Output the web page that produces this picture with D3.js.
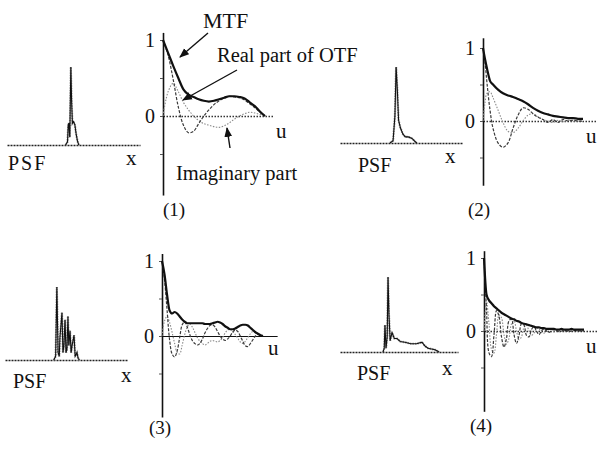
<!DOCTYPE html>
<html>
<head>
<meta charset="utf-8">
<script src="https://cdn.jsdelivr.net/npm/d3@7"></script>
<style>
  body { margin: 0; background: #fff; }
  text { font-family: "Liberation Serif", "Times New Roman", serif; fill: #111; }
</style>
</head>
<body>
<svg id="chart" width="597" height="452"></svg>
<script>
// ---- data ----
// spatial frequency grids
const u20 = [0, 0.05, 0.1, 0.15, 0.2, 0.25, 0.3, 0.35, 0.4, 0.45, 0.5, 0.55, 0.6, 0.65, 0.7, 0.75, 0.8, 0.85, 0.9, 0.95, 1];
const uFine2 = [0, 0.02, 0.04, 0.07, 0.1, 0.15, 0.2, 0.25, 0.3, 0.35, 0.4, 0.45, 0.5, 0.55, 0.6, 0.65, 0.7, 0.75, 0.8, 0.85, 0.9, 0.95, 1];
const u40 = [0, 0.025, 0.05, 0.075, 0.1, 0.125, 0.15, 0.175, 0.2, 0.225, 0.25, 0.275, 0.3, 0.325, 0.35, 0.375, 0.4, 0.425, 0.45, 0.475, 0.5,
  0.525, 0.55, 0.575, 0.6, 0.625, 0.65, 0.675, 0.7, 0.725, 0.75, 0.775, 0.8, 0.825, 0.85, 0.875, 0.9, 0.925, 0.95, 0.975, 1];

// PSF profiles: [position 0..100, relative intensity]
const psf1 = [[44, 0], [45.5, 0.04], [46, 0.25], [46.5, 0.28], [47.2, 0.1], [48, 1.0], [48.6, 0.55], [49.2, 0.28], [50, 0.3], [51, 0.26], [52, 0.14], [53, 0.05], [54, 0]];
const psf2 = [[41, 0], [43.5, 0.03], [45, 0.35], [46, 1.0], [47, 0.7], [48, 0.3], [49.5, 0.2], [51.5, 0.12], [53.5, 0.08], [56, 0.08], [59, 0.06], [61.5, 0.02], [63, 0]];
const psf3 = [[40, 0], [41.5, 0.05], [42.5, 1.0], [43.5, 0.1], [44.5, 0.05], [45, 0.3], [46.7, 0.65], [47.5, 0.1], [48.3, 0.2], [49.2, 0.55], [50, 0.1],
  [50.8, 0.15], [51.6, 0.6], [52.3, 0.2], [53.3, 0.4], [54.2, 0.1], [55, 0.2], [56.6, 0.34], [57.5, 0.05], [59, 0.1], [60, 0.02], [61, 0]];
const psf4 = [[36.5, 0], [37.5, 0.05], [38.1, 0.36], [39, 0.05], [40, 0.2], [40.7, 1.0], [41.5, 0.5], [42.5, 0.15], [44.1, 0.26], [46, 0.18], [48.3, 0.18],
  [51, 0.14], [55, 0.13], [60, 0.11], [65, 0.11], [69.5, 0.13], [72, 0.08], [74.6, 0.05], [80.5, 0.03], [84, 0]];

// panel 1
const mtf1 = [1.0, 0.83, 0.66, 0.5, 0.35, 0.28, 0.25, 0.22, 0.2, 0.19, 0.2, 0.22, 0.24, 0.26, 0.26, 0.25, 0.23, 0.18, 0.13, 0.06, 0.0];
const re1 = [1.0, 0.8, 0.48, 0.12, -0.12, -0.22, -0.2, -0.1, 0.0, 0.08, 0.15, 0.2, 0.24, 0.26, 0.25, 0.24, 0.21, 0.16, 0.11, 0.05, 0.0];
const im1 = [0, 0.32, 0.43, 0.32, 0.18, 0.08, 0.0, -0.06, -0.1, -0.12, -0.14, -0.15, -0.13, -0.09, -0.04, 0.0, 0.03, 0.05, 0.04, 0.02, 0];

// panel 2
const mtf2 = [1.0, 0.85, 0.72, 0.55, 0.5, 0.43, 0.38, 0.35, 0.33, 0.3, 0.27, 0.23, 0.18, 0.14, 0.11, 0.09, 0.07, 0.06, 0.05, 0.04, 0.04, 0.03, 0.03];
const re2 = [1.0, 0.8, 0.52, 0.15, -0.1, -0.3, -0.36, -0.3, -0.1, 0.08, 0.18, 0.16, 0.1, 0.05, 0.02, -0.02, 0.02, -0.02, 0.02, 0.0, 0.01, 0.0, 0.0];
const im2 = [0, 0.25, 0.38, 0.4, 0.32, 0.15, -0.02, -0.14, -0.16, -0.1, 0.0, 0.08, 0.1, 0.06, 0.02, 0.0, -0.02, 0.01, -0.01, 0.01, 0, 0, 0];

// panel 3
const mtf3 = [1.0, 0.82, 0.55, 0.34, 0.3, 0.32, 0.3, 0.26, 0.22, 0.19, 0.17, 0.17, 0.17, 0.17, 0.17, 0.17, 0.17, 0.16, 0.16, 0.16, 0.17,
  0.18, 0.19, 0.18, 0.16, 0.13, 0.11, 0.09, 0.09, 0.1, 0.12, 0.14, 0.15, 0.15, 0.14, 0.11, 0.08, 0.05, 0.03, 0.01, 0.0];
const re3 = [1.0, 0.75, 0.35, -0.05, -0.24, -0.28, -0.2, -0.02, 0.15, 0.19, 0.12, 0.02, -0.06, -0.1, -0.12, -0.1, -0.04, 0.04, 0.1, 0.14, 0.15,
  0.12, 0.06, 0.0, -0.04, -0.06, -0.04, 0.0, 0.05, 0.08, 0.06, 0.0, -0.07, -0.13, -0.14, -0.1, -0.05, 0.0, 0.02, 0.01, 0.0];
const im3 = [0, 0.2, 0.26, 0.18, 0.05, -0.1, -0.22, -0.24, -0.12, 0.02, 0.12, 0.16, 0.12, 0.05, -0.02, -0.07, -0.1, -0.12, -0.1, -0.07, -0.06,
  -0.07, -0.08, -0.06, -0.02, 0.04, 0.08, 0.09, 0.06, 0.02, -0.03, -0.08, -0.1, -0.07, -0.02, 0.03, 0.06, 0.05, 0.03, 0.01, 0];

// panel 4
const mtf4 = [1.0, 0.5, 0.42, 0.38, 0.34, 0.31, 0.28, 0.25, 0.23, 0.21, 0.19, 0.17, 0.16, 0.14, 0.13, 0.11, 0.1, 0.09, 0.08, 0.07, 0.06,
  0.05, 0.05, 0.04, 0.04, 0.03, 0.03, 0.03, 0.03, 0.02, 0.02, 0.03, 0.02, 0.02, 0.02, 0.03, 0.02, 0.02, 0.02, 0.02, 0.02];
const re4 = [1.0, 0.3, -0.3, -0.35, -0.05, 0.28, 0.2, -0.08, -0.22, -0.1, 0.14, 0.16, -0.05, -0.17, -0.06, 0.1, 0.08, -0.06, -0.08, 0.02, 0.06,
  0.0, -0.05, 0.0, 0.03, 0.0, -0.02, 0.0, 0.02, 0.0, -0.01, 0.0, 0.01, 0, -0.01, 0, 0.01, 0, 0, 0, 0];
const im4 = [0, 0.4, 0.1, -0.25, -0.3, -0.05, 0.22, 0.18, -0.05, -0.18, -0.1, 0.1, 0.14, 0.0, -0.12, -0.08, 0.05, 0.08, 0.0, -0.06, -0.03,
  0.04, 0.03, -0.02, -0.03, 0.01, 0.02, -0.01, -0.01, 0.01, 0.01, 0, -0.01, 0, 0.01, 0, 0, 0, 0, 0, 0];

const panelLabels = ["(1)", "(2)", "(3)", "(4)"];

const panels = [
  { psf: psf1, u: u20, mtf: mtf1, re: re1, im: im1 },
  { psf: psf2, u: uFine2, mtf: mtf2, re: re2, im: im2 },
  { psf: psf3, u: u40, mtf: mtf3, re: re3, im: im3 },
  { psf: psf4, u: u40, mtf: mtf4, re: re4, im: im4 },
];

// ---- layout (pixels) ----
const layout = [
  { psfL: 7, psfW: 133, psfBase: 145, psfH: 78, ox: 163, ow: 102, uMax: 1.08, oy0: 116, unit: 76, vMin: -1.04, vMax: 1.1, solidZero: false,
    psfText: [8, 170], xText: [126, 165], uText: [276, 138], numText: [163, 216], psfSpacing: 2 },
  { psfL: 340, psfW: 122, psfBase: 143, psfH: 76, ox: 483, ow: 100, uMax: 1.16, oy0: 121, unit: 73, vMin: -0.88, vMax: 1.14, solidZero: false,
    psfText: [358, 172], xText: [445, 163], uText: [586, 143], numText: [468, 216], psfSpacing: 0 },
  { psfL: 5, psfW: 122, psfBase: 360, psfH: 73, ox: 162, ow: 101, uMax: 1.14, oy0: 336, unit: 75, vMin: -1.08, vMax: 1.1, solidZero: true,
    psfText: [13, 388], xText: [121, 382], uText: [268, 355], numText: [149, 434], psfSpacing: 0 },
  { psfL: 340, psfW: 118, psfBase: 352, psfH: 75, ox: 484, ow: 100, uMax: 1.14, oy0: 331, unit: 73, vMin: -1.1, vMax: 1.1, solidZero: false,
    psfText: [357, 380], xText: [442, 375], uText: [586, 353], numText: [470, 432], psfSpacing: 0 },
];

const svg = d3.select("#chart");

svg.append("defs").append("marker")
  .attr("id", "arrow")
  .attr("viewBox", "0 0 10 10")
  .attr("refX", 9).attr("refY", 5)
  .attr("markerWidth", 7).attr("markerHeight", 7)
  .attr("orient", "auto")
  .append("path").attr("d", "M0,1 L10,5 L0,9 Z").attr("fill", "#111");

function drawPanel(p, L, i) {
  const g = svg.append("g").attr("class", "panel" + (i + 1));

  // PSF
  const px = d3.scaleLinear().domain([0, 100]).range([L.psfL, L.psfL + L.psfW]);
  const py = d3.scaleLinear().domain([0, 1]).range([L.psfBase, L.psfBase - L.psfH]);

  const psfAxis = g.append("g")
    .attr("transform", "translate(0," + L.psfBase + ")")
    .call(d3.axisBottom(px).tickValues([]).tickSizeOuter(0));
  psfAxis.select(".domain").attr("stroke", "#222").attr("stroke-width", 1.6).attr("stroke-dasharray", "2,1");

  const psfLine = d3.line().x((d) => px(d[0])).y((d) => py(d[1]));
  g.append("path").datum(p.psf).attr("d", psfLine)
    .attr("fill", "none").attr("stroke", "#999").attr("stroke-width", 2.2).attr("stroke-dasharray", "1.5,1");
  g.append("path").datum(p.psf).attr("d", psfLine)
    .attr("fill", "none").attr("stroke", "#111").attr("stroke-width", 1.1);

  g.append("text").attr("x", L.psfText[0]).attr("y", L.psfText[1])
    .attr("font-size", 20).attr("letter-spacing", L.psfSpacing).text("PSF");
  g.append("text").attr("x", L.xText[0]).attr("y", L.xText[1])
    .attr("font-size", 21).text("x");

  // OTF
  const ux = d3.scaleLinear().domain([0, 1]).range([L.ox, L.ox + L.ow]);
  const vy = d3.scaleLinear().domain([L.vMin, L.vMax])
    .range([L.oy0 - L.vMin * L.unit, L.oy0 - L.vMax * L.unit]);

  const zero = g.append("g")
    .attr("transform", "translate(0," + vy(0) + ")")
    .call(d3.axisBottom(ux.copy().domain([0, L.uMax]).range([L.ox, ux(L.uMax)])).tickValues([]).tickSizeOuter(0));
  zero.select(".domain").attr("stroke", L.solidZero ? "#111" : "#333")
    .attr("stroke-width", L.solidZero ? 1.2 : 1.3)
    .attr("stroke-dasharray", L.solidZero ? null : "1.5,1.5");

  const yAxis = g.append("g")
    .attr("transform", "translate(" + L.ox + ",0)")
    .call(d3.axisLeft(vy).tickValues([1, 0.5, 0, -0.5]).tickSize(3).tickSizeOuter(0).tickPadding(5)
      .tickFormat((d) => (d === 1 ? "1" : d === 0 ? "0" : "")));
  yAxis.select(".domain").attr("stroke", "#111").attr("stroke-width", 1.6);
  yAxis.selectAll(".tick line").attr("stroke", "#555");
  yAxis.selectAll(".tick text")
    .attr("font-size", 20)
    .attr("font-family", "Liberation Serif, serif")
    .attr("fill", "#111");

  const rows = p.u.map((u, k) => ({ u: u, mtf: p.mtf[k], re: p.re[k], im: p.im[k] }));

  g.append("path").datum(rows)
    .attr("d", d3.line().curve(d3.curveCatmullRom).x((d) => ux(d.u)).y((d) => vy(d.im)))
    .attr("fill", "none").attr("stroke", "#8a8a8a").attr("stroke-width", 1.1).attr("stroke-dasharray", "1.5,1.5");

  g.append("path").datum(rows)
    .attr("d", d3.line().curve(d3.curveCatmullRom).x((d) => ux(d.u)).y((d) => vy(d.re)))
    .attr("fill", "none").attr("stroke", "#3a3a3a").attr("stroke-width", 1.2).attr("stroke-dasharray", "3,1.5");

  g.append("path").datum(rows)
    .attr("d", d3.line().curve(d3.curveMonotoneX).x((d) => ux(d.u)).y((d) => vy(d.mtf)))
    .attr("fill", "none").attr("stroke", "#111").attr("stroke-width", 2.2);

  g.append("text").attr("x", L.uText[0]).attr("y", L.uText[1])
    .attr("font-size", 21).text("u");

  g.append("text").attr("x", L.numText[0]).attr("y", L.numText[1])
    .attr("font-size", 19).text(panelLabels[i]);
}

panels.forEach((p, i) => drawPanel(p, layout[i], i));

// annotations on panel (1)
const notes = svg.append("g").attr("class", "notes");
notes.append("text").attr("x", 203).attr("y", 28).attr("font-size", 22).text("MTF");
notes.append("text").attr("x", 217).attr("y", 62).attr("font-size", 20.5).text("Real part of OTF");
notes.append("text").attr("x", 176).attr("y", 180).attr("font-size", 20.5).text("Imaginary part");

const arrows = [
  [[208, 33], [180, 57]],
  [[237, 70], [183, 100]],
  [[230, 148], [227, 128]],
];
notes.selectAll("line.arrow").data(arrows).enter().append("line")
  .attr("class", "arrow")
  .attr("x1", (d) => d[0][0]).attr("y1", (d) => d[0][1])
  .attr("x2", (d) => d[1][0]).attr("y2", (d) => d[1][1])
  .attr("stroke", "#111").attr("stroke-width", 1.4)
  .attr("marker-end", "url(#arrow)");
</script>
</body>
</html>
